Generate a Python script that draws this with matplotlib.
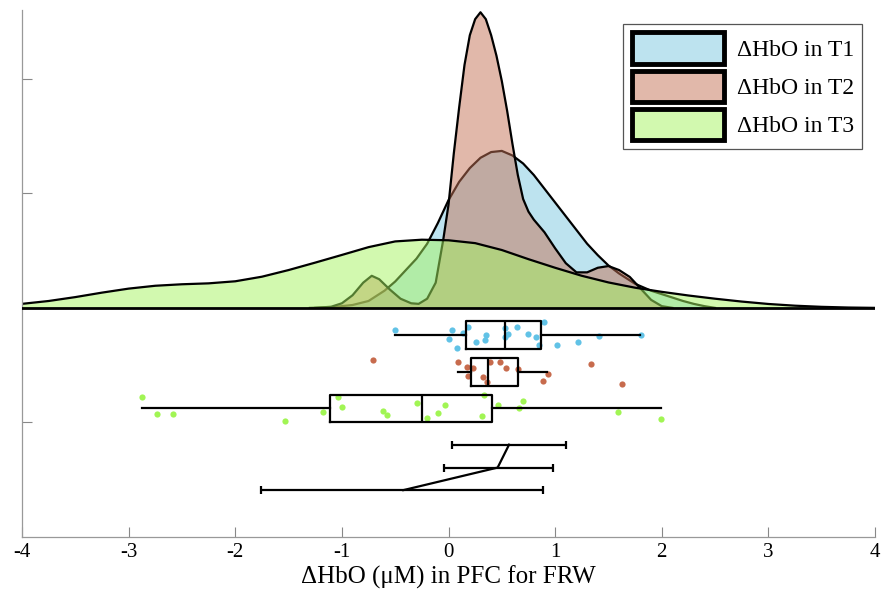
import matplotlib
matplotlib.use("Agg")
import matplotlib.pyplot as plt
from matplotlib.patches import Patch

plt.rcParams['font.family'] = ['Liberation Serif', 'DejaVu Serif']

# ---------------- data ----------------
labels = ["\u0394HbO in T1", "\u0394HbO in T2", "\u0394HbO in T3"]

# density curves
t1_x = [-1.3, -1.1, -0.9, -0.75, -0.6, -0.5, -0.4, -0.3, -0.2, -0.1, 0.0, 0.1, 0.2, 0.3, 0.4,
        0.5, 0.6, 0.7, 0.8, 0.9, 1.0, 1.1, 1.2, 1.3, 1.4, 1.5, 1.6, 1.75, 1.9, 2.0, 2.1, 2.2,
        2.3, 2.4, 2.5]
t1_y = [0.0, 0.005, 0.025, 0.06, 0.15, 0.23, 0.33, 0.43, 0.56, 0.74, 0.94, 1.10, 1.22, 1.31,
        1.36, 1.37, 1.33, 1.26, 1.16, 1.04, 0.92, 0.80, 0.68, 0.56, 0.46, 0.37, 0.30, 0.21,
        0.15, 0.12, 0.09, 0.06, 0.035, 0.015, 0.0]

t2_x = [-1.25, -1.1, -1.0, -0.9, -0.8, -0.72, -0.65, -0.55, -0.45, -0.35, -0.28, -0.2, -0.12,
        -0.05, 0.0, 0.05, 0.1, 0.15, 0.2, 0.25, 0.3, 0.35, 0.4, 0.45, 0.5, 0.55, 0.6, 0.65,
        0.7, 0.75, 0.8, 0.9, 1.0, 1.1, 1.2, 1.3, 1.4, 1.5, 1.6, 1.7, 1.8, 1.9, 2.0, 2.1]
t2_y = [0.0, 0.01, 0.04, 0.11, 0.22, 0.28, 0.25, 0.16, 0.08, 0.04, 0.035, 0.08, 0.22, 0.59,
        0.90, 1.35, 1.75, 2.12, 2.38, 2.52, 2.58, 2.52, 2.38, 2.20, 1.98, 1.72, 1.43, 1.16,
        0.95, 0.84, 0.77, 0.66, 0.52, 0.39, 0.31, 0.31, 0.35, 0.365, 0.33, 0.27, 0.17, 0.07,
        0.015, 0.0]

t3_x = [-4.0, -3.75, -3.5, -3.25, -3.0, -2.75, -2.5, -2.25, -2.0, -1.75, -1.5, -1.25, -1.0,
        -0.75, -0.5, -0.25, 0.0, 0.25, 0.5, 0.75, 1.0, 1.25, 1.5, 1.75, 2.0, 2.25, 2.5, 2.75,
        3.0, 3.25, 3.5, 3.75, 4.0]
t3_y = [0.035, 0.06, 0.094, 0.133, 0.168, 0.193, 0.206, 0.214, 0.232, 0.272, 0.33, 0.395,
        0.462, 0.53, 0.58, 0.595, 0.59, 0.565, 0.505, 0.425, 0.35, 0.28, 0.222, 0.176, 0.14,
        0.108, 0.08, 0.055, 0.034, 0.019, 0.009, 0.003, 0.0]

# raw points (x value, vertical jitter as drawn)
t1_pts = [-0.502, 0.005, 0.036, 0.083, 0.139, 0.186, 0.255, 0.342, 0.349, 0.530, 0.533, 0.555,
          0.640, 0.746, 0.818, 0.846, 0.893, 1.015, 1.218, 1.415, 1.803]
t1_jit = [-0.197, -0.272, -0.191, -0.351, -0.215, -0.168, -0.302, -0.281, -0.235, -0.250,
          -0.177, -0.224, -0.168, -0.229, -0.255, -0.322, -0.119, -0.322, -0.296, -0.243, -0.235]

t2_pts = [-0.711, 0.092, 0.176, 0.186, 0.227, 0.326, 0.358, 0.389, 0.483, 0.539, 0.655, 0.889,
          0.931, 1.334, 1.630]
t2_jit = [-0.455, -0.476, -0.516, -0.597, -0.524, -0.603, -0.650, -0.476, -0.476, -0.524,
          -0.533, -0.641, -0.574, -0.487, -0.663]

t3_pts = [-2.875, -2.737, -2.587, -1.537, -1.177, -1.039, -1.002, -0.612, -0.580, -0.300,
          -0.199, -0.101, -0.030, 0.311, 0.333, 0.467, 0.664, 0.702, 1.587, 1.993]
t3_jit = [-0.780, -0.924, -0.924, -0.989, -0.907, -0.774, -0.863, -0.902, -0.937, -0.832,
          -0.965, -0.919, -0.846, -0.945, -0.763, -0.852, -0.872, -0.815, -0.907, -0.974]

# box statistics as drawn
box_q1 = [0.164, 0.208, -1.11]
box_med = [0.53, 0.368, -0.25]
box_q3 = [0.868, 0.655, 0.405]
box_lo = [-0.50, 0.092, -2.87]
box_hi = [1.80, 0.927, 1.99]

# mean +- interval rows
err_mean = [0.568, 0.461, -0.424]
err_lo = [0.036, -0.042, -1.759]
err_hi = [1.099, 0.977, 0.889]

x_ticks = [-4, -3, -2, -1, 0, 1, 2, 3, 4]

# ---------------- styling ----------------
fill_cols = [(0.49, 0.79, 0.88), (0.77, 0.45, 0.34), (0.65, 0.96, 0.38)]
dot_cols = [(0.38, 0.76, 0.90), (0.78, 0.42, 0.30), (0.63, 0.96, 0.33)]
box_pos = [-0.235, -0.56, -0.877]
err_pos = [-1.194, -1.394, -1.591]

fig = plt.figure(figsize=(8.85, 5.98), dpi=100)
ax = fig.add_axes([22 / 885, 61 / 598, 853 / 885, 527 / 598])

curves = [(t1_x, t1_y), (t2_x, t2_y), (t3_x, t3_y)]
for (cx, cy), col in zip(curves, fill_cols):
    ax.fill_between(cx, 0, cy, color=col, alpha=0.5, linewidth=0, zorder=2)
    ax.plot(cx, cy, color='black', lw=1.6, zorder=2, solid_joinstyle='round')

ax.plot([-4, 4], [0, 0], color='black', lw=2, zorder=3)

pts = [(t1_pts, t1_jit), (t2_pts, t2_jit), (t3_pts, t3_jit)]
for (px, py), col in zip(pts, dot_cols):
    ax.scatter(px, py, s=20, color=col, linewidths=0, zorder=4)

stats = []
for i in range(3):
    stats.append(dict(med=box_med[i], q1=box_q1[i], q3=box_q3[i],
                      whislo=box_lo[i], whishi=box_hi[i], fliers=[]))
ax.bxp(stats, positions=box_pos, vert=False, widths=0.24, showcaps=False,
       showfliers=False, patch_artist=False,
       boxprops=dict(color='black', lw=1.6),
       whiskerprops=dict(color='black', lw=1.6),
       medianprops=dict(color='black', lw=1.6), zorder=5)

for m, lo, hi, yp in zip(err_mean, err_lo, err_hi, err_pos):
    ax.errorbar([m], [yp], xerr=[[m - lo], [hi - m]], fmt='none', ecolor='black',
                elinewidth=1.6, capsize=3, capthick=1.6, zorder=5)
ax.plot(err_mean, err_pos, color='black', lw=1.6, zorder=5)

ax.set_xlim(-4, 4)
ax.set_ylim(-2, 2.6)
ax.set_xticks(x_ticks)
ax.set_xticklabels([str(t) for t in x_ticks], fontsize=15)
ax.set_yticks([-1, 0, 1, 2])
ax.set_yticklabels([])
ax.tick_params(direction='in', length=7, color='#888888', width=0.8)
ax.tick_params(axis='x', pad=4)
for s in ['top', 'right']:
    ax.spines[s].set_visible(False)
for s in ['left', 'bottom']:
    ax.spines[s].set_color('#999999')
    ax.spines[s].set_linewidth(0.9)
ax.set_xlabel("\u0394HbO (\u03bcM) in PFC for FRW", fontsize=18, labelpad=3)

handles = [Patch(facecolor=(*c, 0.5), edgecolor='black', linewidth=3.5) for c in fill_cols]
leg = ax.legend(handles, labels, loc='upper right', bbox_to_anchor=(0.985, 0.973),
                fontsize=17, handlelength=3.9, handleheight=1.7, handletextpad=0.55,
                borderpad=0.35, labelspacing=0.26, borderaxespad=0.0, fancybox=False,
                framealpha=1, edgecolor='#555555')
leg.get_frame().set_linewidth(0.9)

fig.savefig("out.png", dpi=100)
